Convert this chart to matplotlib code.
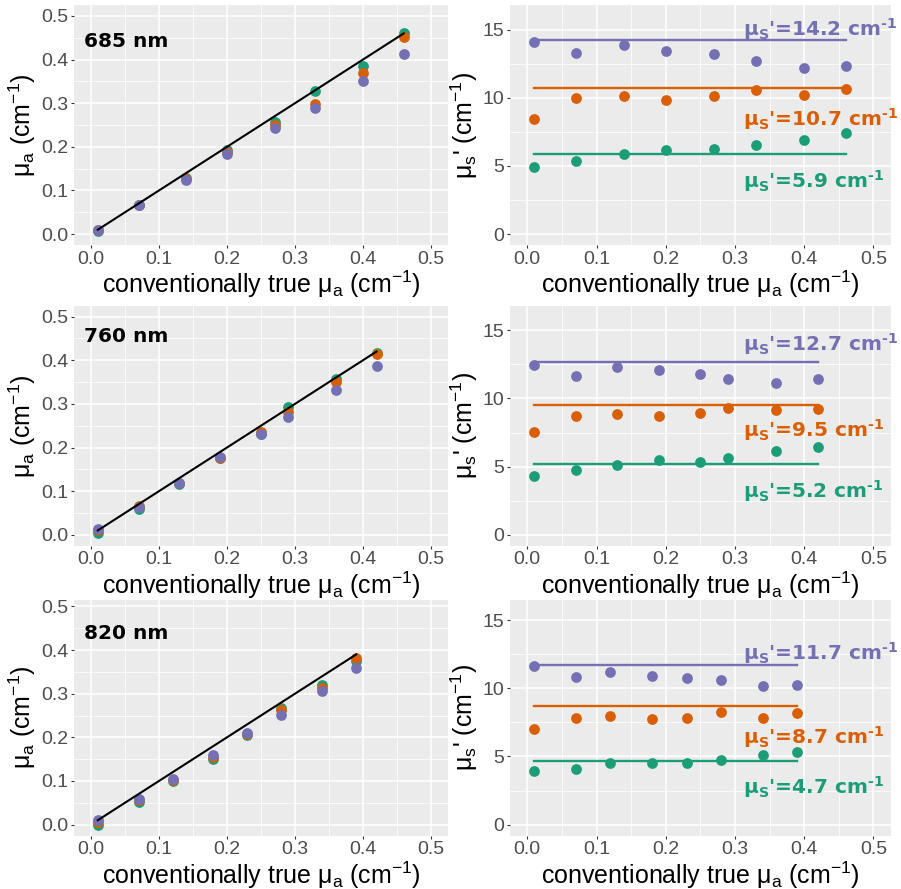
import matplotlib
matplotlib.use('Agg')
import matplotlib.pyplot as plt
from matplotlib.ticker import MultipleLocator

# 数据：三个波长下的 mua / mus' 测量值
wavelengths = ['685 nm', '760 nm', '820 nm']

x_685 = [0.01, 0.07, 0.14, 0.20, 0.27, 0.33, 0.40, 0.46]
x_760 = [0.01, 0.07, 0.13, 0.19, 0.25, 0.29, 0.36, 0.42]
x_820 = [0.01, 0.07, 0.12, 0.18, 0.23, 0.28, 0.34, 0.39]

mua_685_green = [0.007, 0.067, 0.129, 0.192, 0.256, 0.329, 0.385, 0.461]
mua_685_orange = [0.010, 0.067, 0.127, 0.188, 0.251, 0.298, 0.369, 0.451]
mua_685_purple = [0.010, 0.067, 0.123, 0.184, 0.243, 0.288, 0.350, 0.412]

mua_760_green = [0.005, 0.060, 0.117, 0.175, 0.232, 0.294, 0.358, 0.417]
mua_760_orange = [0.012, 0.067, 0.118, 0.175, 0.236, 0.282, 0.351, 0.414]
mua_760_purple = [0.013, 0.064, 0.119, 0.178, 0.230, 0.270, 0.331, 0.387]

mua_820_green = [0.000, 0.052, 0.101, 0.151, 0.205, 0.267, 0.319, 0.375]
mua_820_orange = [0.005, 0.056, 0.103, 0.155, 0.207, 0.262, 0.313, 0.381]
mua_820_purple = [0.010, 0.059, 0.105, 0.160, 0.210, 0.251, 0.307, 0.358]

mus_685_green = [4.90, 5.34, 5.88, 6.20, 6.23, 6.57, 6.91, 7.40]
mus_685_orange = [8.43, 9.98, 10.12, 9.85, 10.12, 10.54, 10.20, 10.61]
mus_685_purple = [14.12, 13.28, 13.85, 13.46, 13.21, 12.67, 12.16, 12.33]

mus_760_green = [4.31, 4.72, 5.14, 5.46, 5.36, 5.60, 6.17, 6.46]
mus_760_orange = [7.54, 8.69, 8.88, 8.69, 8.96, 9.27, 9.18, 9.22]
mus_760_purple = [12.43, 11.67, 12.31, 12.11, 11.82, 11.40, 11.16, 11.43]

mus_820_green = [3.96, 4.11, 4.50, 4.53, 4.53, 4.72, 5.14, 5.31]
mus_820_orange = [7.00, 7.83, 7.93, 7.78, 7.81, 8.25, 7.81, 8.17]
mus_820_purple = [11.62, 10.84, 11.16, 10.89, 10.77, 10.57, 10.18, 10.25]

# 每个样本的标称 mus'
mus_nominal_685 = [5.9, 10.7, 14.2]
mus_nominal_760 = [5.2, 9.5, 12.7]
mus_nominal_820 = [4.7, 8.7, 11.7]

colors = ['#1B9E77', '#D95F02', '#7570B3']  # Dark2

rows = [
    (x_685, [mua_685_green, mua_685_orange, mua_685_purple],
     [mus_685_green, mus_685_orange, mus_685_purple], mus_nominal_685),
    (x_760, [mua_760_green, mua_760_orange, mua_760_purple],
     [mus_760_green, mus_760_orange, mus_760_purple], mus_nominal_760),
    (x_820, [mua_820_green, mua_820_orange, mua_820_purple],
     [mus_820_green, mus_820_orange, mus_820_purple], mus_nominal_820),
]

# 版面（像素）
W, H = 901, 889
row_px = [(5, 245), (306, 545.7), (600, 835.5)]
left_px = (74, 448)
right_px = (510, 890.7)
label_y = [0.441, 0.454, 0.438]          # 波长标签的位置
annot_y = [[3.92, 8.46, 15.07], [3.2, 7.66, 14.0], [2.76, 6.43, 12.55]]

plt.rcParams['font.family'] = ['Liberation Sans', 'DejaVu Sans']
plt.rcParams['mathtext.default'] = 'regular'

fig = plt.figure(figsize=(W / 100, H / 100), dpi=100)


def make_ax(xr, yr):
    l, r = xr
    t, b = yr
    ax = fig.add_axes([l / W, 1 - b / H, (r - l) / W, (b - t) / H])
    ax.set_facecolor('#EBEBEB')
    for s in ax.spines.values():
        s.set_visible(False)
    ax.set_axisbelow(True)
    ax.xaxis.set_major_locator(MultipleLocator(0.1))
    ax.xaxis.set_minor_locator(MultipleLocator(0.05))
    ax.grid(which='major', color='white', lw=1.1)
    ax.grid(which='minor', color='white', lw=0.55)
    ax.tick_params(which='major', length=2.5, width=0.8, color='#333333',
                   labelsize=14, labelcolor='#4D4D4D', pad=1.5)
    ax.tick_params(which='minor', length=0)
    ax.set_xlim(-0.025, 0.525)
    ax.set_xlabel('conventionally true μ$_a$ (cm$^{−1}$)', fontsize=18, labelpad=1)
    return ax


for i, (xs, mua_list, mus_list, nominal) in enumerate(rows):
    frac = (row_px[i][1] - row_px[i][0]) / 240.0

    # 左：mua
    ax = make_ax(left_px, row_px[i])
    ax.yaxis.set_major_locator(MultipleLocator(0.1))
    ax.yaxis.set_minor_locator(MultipleLocator(0.05))
    ax.set_ylim(-0.025, -0.025 + 0.55 * frac)
    for ys, c in zip(mua_list, colors):
        ax.scatter(xs, ys, s=60, color=c, lw=0, zorder=3)
    ax.plot([xs[0], xs[-1]], [xs[0], xs[-1]], color='black', lw=1.5, zorder=4)
    ax.text(-0.01, label_y[i], wavelengths[i], fontsize=14.5, fontweight='bold',
            family='DejaVu Sans', ha='left', va='center')
    ax.set_ylabel('μ$_a$ (cm$^{−1}$)', fontsize=18, labelpad=2)
    ax.yaxis.set_major_formatter(plt.FuncFormatter(lambda v, p: f'{v:.1f}'))

    # 右：mus'
    ax2 = make_ax(right_px, row_px[i])
    ax2.yaxis.set_major_locator(MultipleLocator(5))
    ax2.yaxis.set_minor_locator(MultipleLocator(2.5))
    ax2.set_ylim(-0.8, -0.8 + 17.6 * frac)
    for ys, c, nom, ay in zip(mus_list, colors, nominal, annot_y[i]):
        ax2.scatter(xs, ys, s=60, color=c, lw=0, zorder=3)
        ax2.plot([xs[0], xs[-1]], [nom, nom], color=c, lw=1.7, zorder=4)
        ax2.text(0.311, ay, f"μ$_S$'={nom} cm$^{{‐1}}$", color=c, fontsize=14.5,
                 fontweight='bold', family='DejaVu Sans', ha='left', va='center',
                 clip_on=False)
    ax2.set_ylabel("μ$_s$' (cm$^{−1}$)", fontsize=18, labelpad=2)

fig.savefig('out.png', dpi=100)
